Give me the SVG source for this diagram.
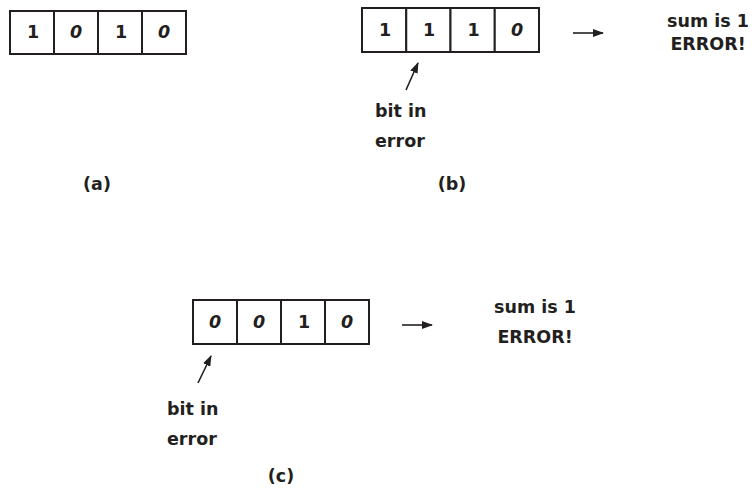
<svg xmlns="http://www.w3.org/2000/svg" width="752" height="490" viewBox="0 0 752 490">
  <style>
    .cell { fill: #ffffff; stroke: #231f20; stroke-width: 2; }
    .t { font-family: "DejaVu Sans", "Liberation Sans", sans-serif; font-weight: bold; font-size: 17.5px; fill: #231f20; }
    .d { text-anchor: middle; }
    .o { font-style: italic; }
    .m { text-anchor: middle; }
    .arr { stroke: #231f20; stroke-width: 1.6; fill: none; marker-end: url(#ah); }
  </style>
  <defs>
    <marker id="ah" markerUnits="userSpaceOnUse" markerWidth="11" markerHeight="8" refX="10" refY="4" orient="auto">
      <path d="M0,0 L11,4 L0,8 z" fill="#231f20"/>
    </marker>
  </defs>
  <rect width="752" height="490" fill="#ffffff"/>

  <g id="word-a">
    <rect class="cell" x="10" y="11" width="44" height="43"/>
    <rect class="cell" x="54" y="11" width="44" height="43"/>
    <rect class="cell" x="98" y="11" width="44" height="43"/>
    <rect class="cell" x="142" y="11" width="44" height="43"/>
    <text class="t d" x="33" y="38">1</text>
    <text class="t d o" x="76" y="38">0</text>
    <text class="t d" x="121" y="38">1</text>
    <text class="t d o" x="164" y="38">0</text>
  </g>
  <g id="label-a"><text class="t m" x="97" y="190">(a)</text></g>

  <g id="word-b">
    <rect class="cell" x="362" y="8" width="44.25" height="44"/>
    <rect class="cell" x="406.25" y="8" width="44.25" height="44"/>
    <rect class="cell" x="450.5" y="8" width="44.25" height="44"/>
    <rect class="cell" x="494.75" y="8" width="44.25" height="44"/>
    <text class="t d" x="385" y="36">1</text>
    <text class="t d" x="429" y="36">1</text>
    <text class="t d" x="473.5" y="36">1</text>
    <text class="t d o" x="517" y="36">0</text>
  </g>
  <g id="note-b">
    <text class="t" x="375" y="117">bit in</text>
    <text class="t" x="375" y="147">error</text>
  </g>
  <g id="result-b">
    <text class="t m" x="708" y="27">sum is 1</text>
    <text class="t m" x="708" y="50">ERROR!</text>
  </g>
  <g id="label-b"><text class="t m" x="452" y="190">(b)</text></g>

  <g id="word-c">
    <rect class="cell" x="193" y="300" width="44" height="44"/>
    <rect class="cell" x="237" y="300" width="44" height="44"/>
    <rect class="cell" x="281" y="300" width="44" height="44"/>
    <rect class="cell" x="325" y="300" width="44" height="44"/>
    <text class="t d o" x="215" y="328">0</text>
    <text class="t d o" x="259" y="328">0</text>
    <text class="t d" x="304" y="328">1</text>
    <text class="t d o" x="347" y="328">0</text>
  </g>
  <g id="note-c">
    <text class="t" x="167" y="415">bit in</text>
    <text class="t" x="167" y="445">error</text>
  </g>
  <g id="result-c">
    <text class="t m" x="535" y="313">sum is 1</text>
    <text class="t m" x="535" y="343">ERROR!</text>
  </g>
  <g id="label-c"><text class="t m" x="281" y="482">(c)</text></g>

  <g id="connectors">
    <line class="arr" x1="573" y1="33" x2="603" y2="33"/>
    <line class="arr" x1="406" y1="90" x2="418" y2="63"/>
    <line class="arr" x1="402" y1="325" x2="432" y2="325"/>
    <line class="arr" x1="198" y1="383" x2="211" y2="356"/>
  </g>
</svg>
